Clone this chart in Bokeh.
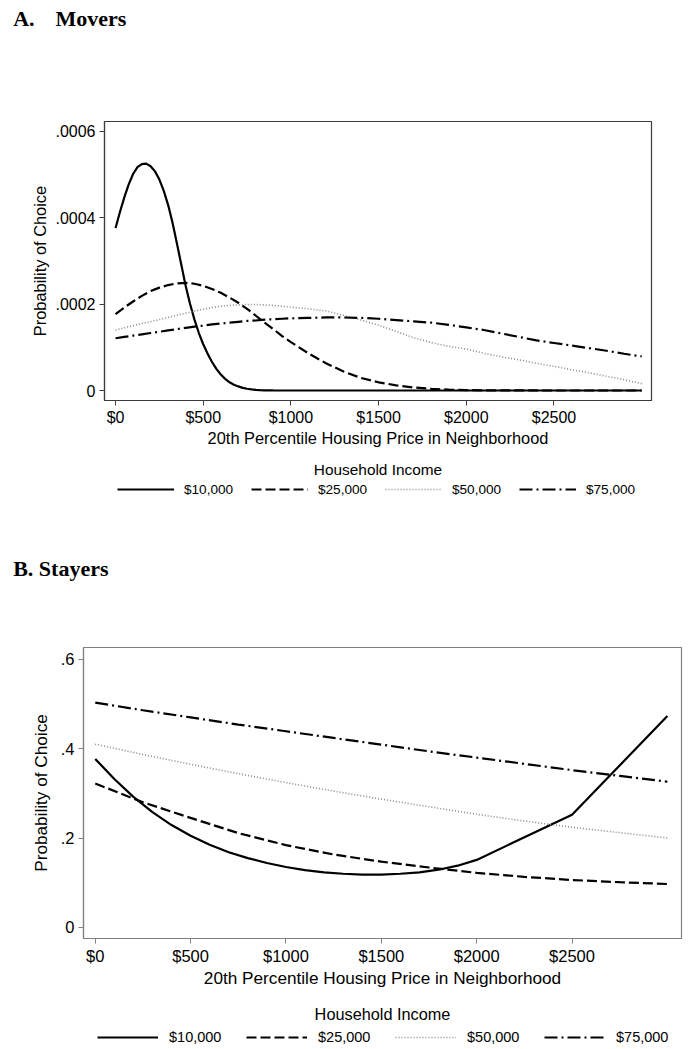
from bokeh.plotting import figure
from bokeh.models import Range1d, FixedTicker, Legend, LegendItem
from bokeh.embed import file_html
from bokeh.resources import INLINE
from bokeh.core.properties import value

SANS = "Liberation Sans"
SERIF = "Liberation Serif"
W = 693
NAN = float("nan")

# ---------------- data ----------------
income_labels = ["$10,000", "$25,000", "$50,000", "$75,000"]
legend_title = "Household Income"
x_label = "20th Percentile Housing Price in Neighborhood"
y_label = "Probability of Choice"
x_ticks = [0, 500, 1000, 1500, 2000, 2500]
x_tick_labels = ["$0", "$500", "$1000", "$1500", "$2000", "$2500"]
ya_ticks = [0, 0.0002, 0.0004, 0.0006]
ya_tick_labels = ["0", ".0002", ".0004", ".0006"]
yb_ticks = [0, 0.2, 0.4, 0.6]
yb_tick_labels = ["0", ".2", ".4", ".6"]

# Panel A: Movers
price_a10 = [0, 25, 50, 75, 100, 125, 150, 175, 200, 225, 250, 275, 300, 325, 350,
             375, 400, 425, 450, 475, 500, 525, 550, 575, 600, 625, 650, 675, 700,
             725, 750, 775, 800, 825, 850, 875, 900, 1000, 1500, 2000, 2500, 3000]
movers_10k = [3.76e-4, 4.13e-4, 4.47e-4, 4.77e-4, 5.01e-4, 5.17e-4, 5.24e-4, 5.25e-4,
              5.19e-4, 5.07e-4, 4.88e-4, 4.62e-4, 4.29e-4, 3.88e-4, 3.40e-4, 2.91e-4,
              2.42e-4, 2.00e-4, 1.64e-4, 1.33e-4, 1.07e-4, 0.85e-4, 0.66e-4, 0.50e-4,
              0.37e-4, 0.27e-4, 0.19e-4, 0.135e-4, 0.095e-4, 0.062e-4, 0.04e-4,
              0.025e-4, 0.015e-4, 0.009e-4, 0.005e-4, 0.002e-4, 0.001e-4,
              0.0, 0.0, 0.0, 0.0, 0.0]
price_a = [0, 50, 100, 150, 200, 250, 300, 350, 400, 450, 500, 550, 600, 650, 700,
           750, 800, 850, 900, 950, 1000, 1100, 1200, 1300, 1400, 1500, 1600, 1700,
           1800, 1900, 2000, 2100, 2200, 2300, 2400, 2500, 2600, 2700, 2800, 2900, 3000]
movers_25k = [1.77e-4, 1.92e-4, 2.06e-4, 2.19e-4, 2.30e-4, 2.38e-4, 2.44e-4, 2.48e-4,
              2.49e-4, 2.47e-4, 2.42e-4, 2.35e-4, 2.26e-4, 2.15e-4, 2.03e-4, 1.89e-4,
              1.73e-4, 1.57e-4, 1.42e-4, 1.26e-4, 1.12e-4, 0.86e-4, 0.63e-4, 0.44e-4,
              0.29e-4, 0.19e-4, 0.12e-4, 0.07e-4, 0.04e-4, 0.02e-4, 0.01e-4, 0.005e-4,
              0.003e-4, 0.002e-4, 0.001e-4, 0.0, 0.0, 0.0, 0.0, 0.0, 0.0]
movers_50k = [1.40e-4, 1.45e-4, 1.50e-4, 1.55e-4, 1.59e-4, 1.64e-4, 1.69e-4, 1.74e-4,
              1.79e-4, 1.84e-4, 1.88e-4, 1.92e-4, 1.95e-4, 1.97e-4, 1.98e-4, 1.99e-4,
              1.99e-4, 1.98e-4, 1.97e-4, 1.95e-4, 1.93e-4, 1.89e-4, 1.84e-4, 1.74e-4,
              1.63e-4, 1.51e-4, 1.37e-4, 1.22e-4, 1.11e-4, 1.02e-4, 0.96e-4, 0.86e-4,
              0.78e-4, 0.71e-4, 0.63e-4, 0.56e-4, 0.48e-4, 0.41e-4, 0.33e-4, 0.25e-4,
              0.16e-4]
movers_75k = [1.21e-4, 1.24e-4, 1.27e-4, 1.30e-4, 1.33e-4, 1.36e-4, 1.39e-4, 1.42e-4,
              1.45e-4, 1.48e-4, 1.50e-4, 1.53e-4, 1.55e-4, 1.57e-4, 1.59e-4, 1.61e-4,
              1.62e-4, 1.64e-4, 1.65e-4, 1.66e-4, 1.67e-4, 1.68e-4, 1.69e-4, 1.69e-4,
              1.68e-4, 1.66e-4, 1.63e-4, 1.60e-4, 1.57e-4, 1.52e-4, 1.46e-4, 1.40e-4,
              1.32e-4, 1.24e-4, 1.16e-4, 1.10e-4, 1.04e-4, 0.98e-4, 0.92e-4, 0.85e-4,
              0.79e-4]

# Panel B: Stayers
price_b10 = [0, 100, 200, 300, 400, 500, 600, 700, 800, 900, 1000, 1100, 1200, 1300,
             1400, 1500, 1600, 1700, 1800, 1900, 2000, 2500, 3000]
stayers_10k = [0.377, 0.332, 0.292, 0.258, 0.229, 0.205, 0.185, 0.168, 0.155, 0.144,
               0.135, 0.128, 0.123, 0.120, 0.118, 0.118, 0.120, 0.123, 0.129, 0.138,
               0.151, 0.252, 0.473]
price_b = [0, 250, 500, 750, 1000, 1250, 1500, 1750, 2000, 2250, 2500, 2750, 3000]
stayers_25k = [0.322, 0.280, 0.245, 0.211, 0.184, 0.163, 0.147, 0.134, 0.122, 0.113,
               0.106, 0.101, 0.097]
stayers_50k = [0.410, 0.387, 0.365, 0.344, 0.324, 0.305, 0.287, 0.270, 0.253, 0.238,
               0.224, 0.212, 0.200]
stayers_75k = [0.503, 0.486, 0.470, 0.454, 0.439, 0.424, 0.409, 0.394, 0.380, 0.366,
               0.352, 0.339, 0.326]

# ---------------- styling ----------------
line_styles = [
    dict(line_color="black", line_width=2.2, line_dash="solid"),
    dict(line_color="black", line_width=2.2, line_dash="10 4"),
    dict(line_color="#8a8a8a", line_width=1.6, line_dash="1 2"),
    dict(line_color="black", line_width=2.2, line_dash="13 4 2 4"),
]


def blank_fig(height):
    p = figure(width=W, height=height, x_range=Range1d(0, W), y_range=Range1d(0, height),
               output_backend="svg", toolbar_location=None, title=None,
               x_axis_location=None, y_axis_location=None,
               min_border_left=0, min_border_right=0, min_border_top=0,
               min_border_bottom=0, background_fill_color="white",
               border_fill_color="white")
    p.outline_line_color = None
    p.grid.visible = False
    return p


def heading_fig(height, text, center_y):
    p = blank_fig(height)
    p.text(x=[12.7], y=[center_y], text=[text], text_font=value(SERIF),
           text_font_size=value("22px"), text_font_style="bold",
           text_align="left", text_baseline="middle", text_color="black")
    return p


def legend_fig(height, center_x, title_y, fs_title, fs_leg, glyph_w, standoff,
               label_w, spacing, leg_loc):
    p = blank_fig(height)
    p.text(x=[center_x], y=[title_y], text=[legend_title], text_font=value(SANS),
           text_font_size=value(fs_title), text_align="center",
           text_baseline="middle", text_color="black")
    # legend-only renderers (NaN data: nothing is drawn in the frame)
    rs = [p.line(x=[NAN, NAN], y=[NAN, NAN], **st) for st in line_styles]
    legend = Legend(items=[LegendItem(label=lab, renderers=[r])
                           for lab, r in zip(income_labels, rs)],
                    orientation="horizontal", location=leg_loc,
                    label_text_font=SANS, label_text_font_size=fs_leg,
                    label_text_color="black",
                    glyph_width=glyph_w, glyph_height=16, label_height=20,
                    label_width=label_w, label_standoff=standoff,
                    spacing=spacing, padding=0, margin=0,
                    border_line_color=None, background_fill_alpha=0)
    p.add_layout(legend)
    return p


def main_fig(height, series, x_range, y_range, yticks, ylabels, frame_color,
             borders, fs_tick, fs_label, ylab_standoff, xtick_standoff):
    bl, br, bt, bb = borders
    p = figure(width=W, height=height, x_range=Range1d(*x_range),
               y_range=Range1d(*y_range), output_backend="svg",
               toolbar_location=None, title=None,
               min_border_left=bl, min_border_right=br,
               min_border_top=bt, min_border_bottom=bb,
               background_fill_color="white", border_fill_color="white")
    p.outline_line_color = frame_color
    p.outline_line_width = 1.2
    p.grid.visible = False

    for (xs, ys), st in zip(series, line_styles):
        p.line(xs, ys, **st)

    for ax in (p.xaxis[0], p.yaxis[0]):
        ax.axis_line_color = frame_color
        ax.axis_line_width = 1.2
        ax.major_tick_line_color = frame_color
        ax.major_tick_in = 0
        ax.major_tick_out = 5
        ax.minor_tick_line_color = None
        ax.major_label_text_font = SANS
        ax.major_label_text_font_size = fs_tick
        ax.major_label_text_color = "black"
        ax.axis_label_text_font = SANS
        ax.axis_label_text_font_size = fs_label
        ax.axis_label_text_font_style = "normal"
        ax.axis_label_text_color = "black"
        ax.major_label_standoff = 4

    p.xaxis.ticker = FixedTicker(ticks=x_ticks)
    p.xaxis.major_label_overrides = dict(zip(x_ticks, x_tick_labels))
    p.xaxis.axis_label = x_label
    p.xaxis.axis_label_standoff = 0
    p.xaxis.major_label_standoff = xtick_standoff
    p.yaxis.ticker = FixedTicker(ticks=yticks)
    p.yaxis.major_label_overrides = dict(zip(yticks, ylabels))
    p.yaxis.axis_label = y_label
    p.yaxis.axis_label_standoff = ylab_standoff
    return p


# ---------------- panel A ----------------
head_a = heading_fig(111, "A.\u00a0\u00a0\u00a0\u2009Movers", 93.3)
main_a = main_fig(339,
                  [(price_a10, movers_10k), (price_a, movers_25k),
                   (price_a, movers_50k), (price_a, movers_75k)],
                  (-63, 3056), (-0.0000231, 0.0006224), ya_ticks, ya_tick_labels,
                  "#3c3c3c", (104, 42, 10, 50), "16px", "16.4px", 3, 3)
leg_a = legend_fig(90, 377.5, 71, "15.4px", "13.6px", 57, 10, 50, 17, (117, 41))

# ---------------- panel B ----------------
head_b = heading_fig(97, "B. Stayers", 69.3)
main_b = main_fig(353,
                  [(price_b10, stayers_10k), (price_b, stayers_25k),
                   (price_b, stayers_50k), (price_b, stayers_75k)],
                  (-61.6, 3074), (-0.025, 0.6265), yb_ticks, yb_tick_labels,
                  "#808080", (83, 12, 10, 48), "16.5px", "17.2px", 7, 3)
leg_b = legend_fig(58, 382, 35, "16.3px", "14.5px", 61, 11, 53, 24, (97, 1))

# separate roots, stacked top to bottom (keeps each panel's own frame geometry)
roots = [head_a, main_a, leg_a, head_b, main_b, leg_b]
open("out.html", "w").write(file_html(roots, INLINE))
